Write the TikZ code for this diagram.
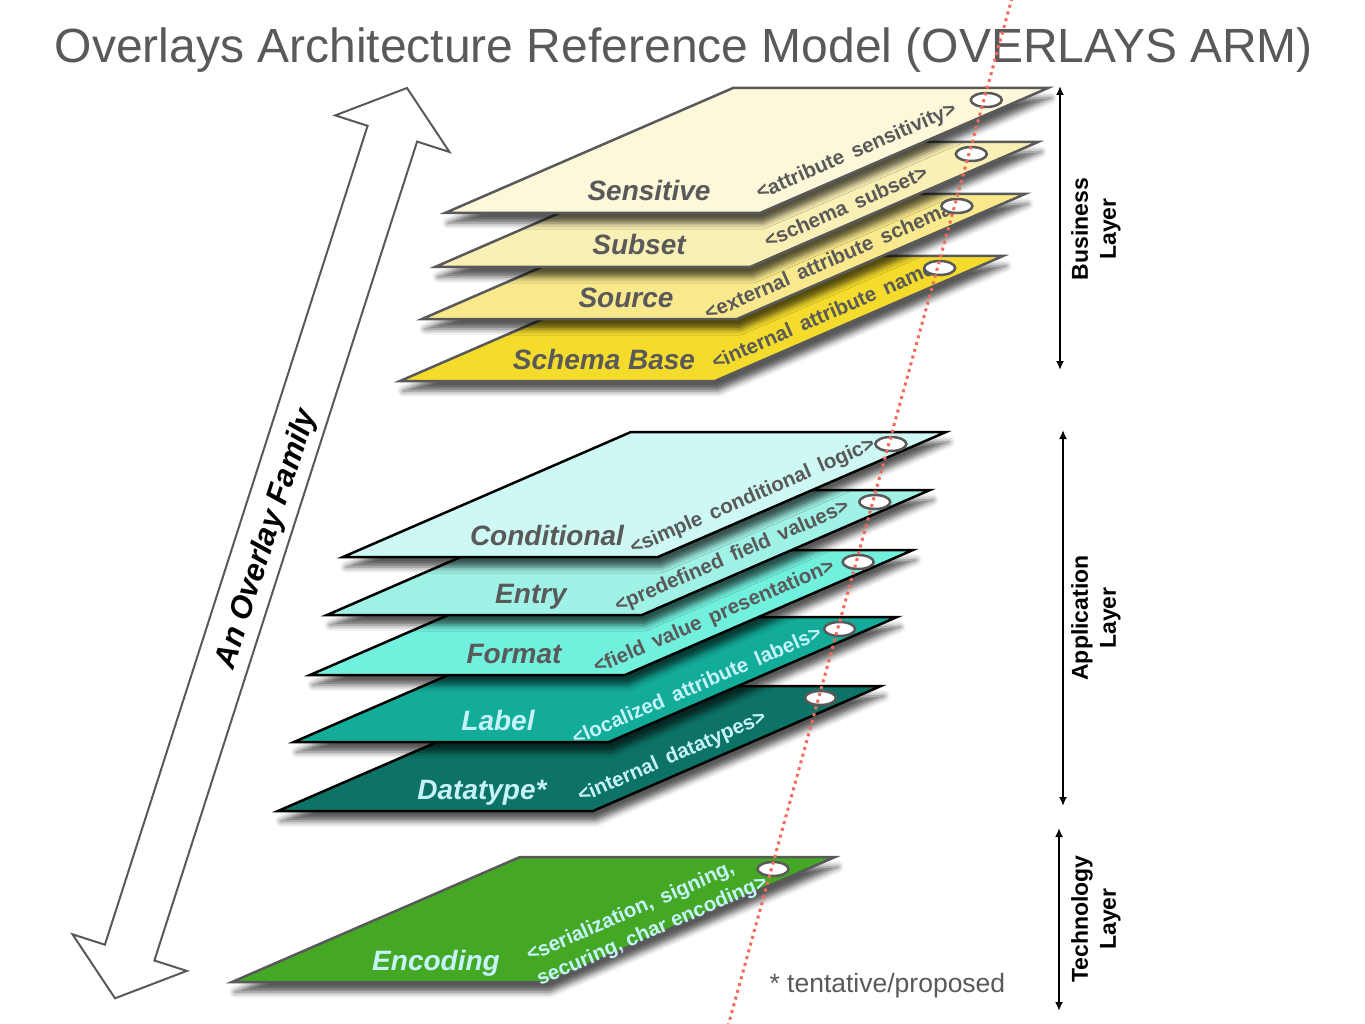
\documentclass[tikz,border=0pt]{standalone}
\usepackage{fontspec}
\setmainfont{Liberation Sans}
\usepackage{tikz}
\usetikzlibrary{arrows.meta,calc,shapes.geometric,shadows.blur}
\definecolor{ink}{HTML}{595959}
\definecolor{sens}{HTML}{FDF8D9}
\definecolor{subs}{HTML}{FAF0B5}
\definecolor{srce}{HTML}{F9E98C}
\definecolor{base}{HTML}{F5DC2C}
\definecolor{cond}{HTML}{CDF8F3}
\definecolor{entr}{HTML}{A0F2E6}
\definecolor{frmt}{HTML}{72F0DE}
\definecolor{labl}{HTML}{12AC99}
\definecolor{dtyp}{HTML}{0C7366}
\definecolor{enco}{HTML}{45A825}
\definecolor{pale}{HTML}{C6F3FB}
\definecolor{thread}{HTML}{F26A5A}
\newcommand{\pxsize}[2]{\fontsize{#1}{#2}\selectfont}
\newcommand{\widegap}{\spaceskip=0.45em\relax}

\tikzset{
  sheet/.style={line width=2.5pt, line join=miter,
    blur shadow={shadow xshift=3pt, shadow yshift=-10pt, shadow blur radius=6pt, shadow opacity=65}},
  ring/.style={ellipse, draw=ink, fill=white, line width=2.5pt,
    minimum width=31pt, minimum height=14pt, inner sep=0pt},
  lyrname/.style={font=\pxsize{28}{32}\bfseries\itshape, anchor=base},
  lyrtag/.style={font=\pxsize{20.5}{26}\bfseries, rotate=23.5, inner sep=0pt, align=left},
  sidelabel/.style={font=\pxsize{23}{28}\bfseries, rotate=90, align=center},
  layerspan/.style={{Latex[length=9pt,width=8pt]}-{Latex[length=9pt,width=8pt]}, line width=2.5pt}
}

\begin{document}
\begin{tikzpicture}[x=1pt, y=-1pt]
  \useasboundingbox (0,0) rectangle (1365,1024);
  \node[font=\pxsize{48}{54}, text=ink, anchor=base] (head) at (684,63)
       {Overlays Architecture Reference Model (OVERLAYS ARM)};

  % the family arrow
  \draw[ink, fill=white, line width=2pt]
    (407,88) -- (449.5,152) -- (417.1,141.6) -- (154.4,960.5) -- (186.8,970.9)
    -- (115,998.3) -- (72.5,934.3) -- (104.9,944.7) -- (367.6,125.8) -- (335.2,115.4) -- cycle;
  \node[font=\pxsize{31}{36}\bfseries\itshape, rotate=72.2] (family) at (267,539) {An Overlay Family};

  % overlay sheets, back to front
  \foreach \n/\bx/\by/\fc/\dc/\tc/\name/\along/\desc in {
      base/400/381/base/ink/ink/Schema Base/131/{<internal attribute name>},
      srce/422/319/srce/ink/ink/Source/113/{<external attribute schema>},
      subs/435/267/subs/ink/ink/Subset/112/{<schema subset>},
      sens/445/213/sens/ink/ink/Sensitive/113/{<attribute sensitivity>},
      dtyp/278/811/dtyp/black/pale/Datatype*/94/{<internal datatypes>},
      labl/294/742/labl/black/pale/Label/103/{<localized attribute labels>},
      frmt/310/675/frmt/black/ink/Format/105/{<field value presentation>},
      entr/327/615/entr/black/ink/Entry/106/{<predefined field values>},
      cond/343/557/cond/black/ink/Conditional/111/{<simple conditional logic>},
      enco/232/982/enco/ink/pale/Encoding/117/{<serialization, signing,\\securing, char encoding>}}{
    \draw[sheet, fill=\fc, draw=\dc] (\bx,\by) coordinate (\n-bl) -- ++(315,0) coordinate (\n-br)
      -- ++(288,-125) coordinate (\n-tr) -- ++(-315,0) coordinate (\n-tl) -- cycle;
    \node[lyrname, text=\tc] (\n-name) at ($(\n-bl)+(204,-12)$) {\name};
    \node[lyrtag, text=\tc] (\n-tag) at ($(\n-br)+(\along*0.917-7,-\along*0.398-16)$) {\widegap\desc};
    \node[ring] (\n-ring) at ({1014-0.2773*(\by-113)},{\by-113}) {};
  }

  % thread through the rings
  \coordinate (thread-top) at (1012,-2);
  \coordinate (thread-bot) at (728,1026);
  \draw[thread, line width=3pt, dash pattern=on 3pt off 4pt] (thread-top) -- (thread-bot);

  % layer spans
  \coordinate (biz-top) at (1060,86);   \coordinate (biz-bot) at (1060,370);
  \coordinate (app-top) at (1063,430);  \coordinate (app-bot) at (1063,806);
  \coordinate (tech-top) at (1059,828); \coordinate (tech-bot) at (1059,1011);
  \draw[layerspan] (biz-top) -- (biz-bot);
  \draw[layerspan] (app-top) -- (app-bot);
  \draw[layerspan] (tech-top) -- (tech-bot);
  \node[sidelabel] (biz) at (1096,229) {Business\\Layer};
  \node[sidelabel] (app) at (1096,618) {Application\\Layer};
  \node[sidelabel] (tech) at (1096,919) {Technology\\Layer};

  \node[font=\pxsize{26.5}{30}, text=ink, anchor=west] (note) at (766,986) {* tentative/proposed};
\end{tikzpicture}
\end{document}
